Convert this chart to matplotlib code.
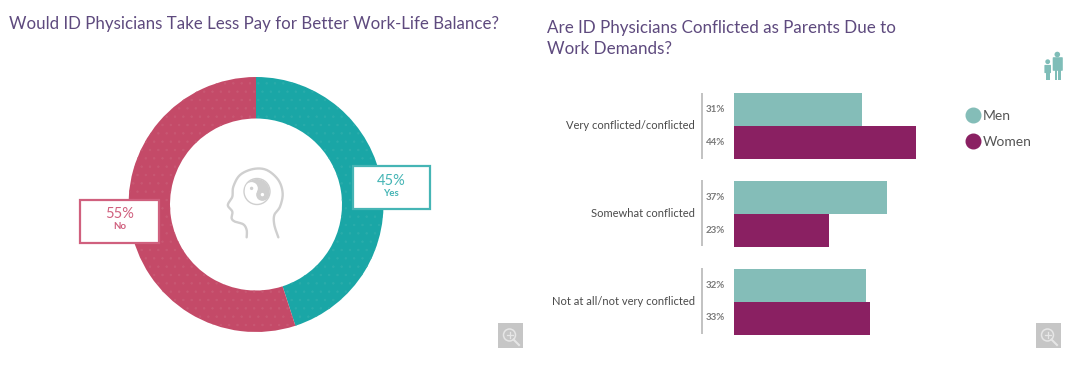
import numpy as np
import matplotlib
matplotlib.use("Agg")
import matplotlib.pyplot as plt
from matplotlib.lines import Line2D
from matplotlib.patches import Rectangle, Circle, Wedge, FancyBboxPatch

plt.rcParams['font.family'] = ['Lato', 'DejaVu Sans']
plt.rcParams['hatch.linewidth'] = 0.5

# Data
donut_labels = ['Yes', 'No']
donut_values = [45, 55]
donut_colors = ['#1AA6A6', '#C44A68']
donut_dots = ['#2AACAB', '#C85873']
categories = ['Very conflicted/conflicted', 'Somewhat conflicted', 'Not at all/not very conflicted']
men = [31, 37, 32]
women = [44, 23, 33]
title_left = 'Would ID Physicians Take Less Pay for Better Work-Life Balance?'
title_right = 'Are ID Physicians Conflicted as Parents Due to\nWork Demands?'

W, H = 1080, 366
TEAL, PURPLE = '#84BDB8', '#8A2062'
TITLE = '#5E4A7E'
fig = plt.figure(figsize=(W / 100, H / 100), dpi=100, facecolor='white')


def box(x0, y0, x1, y1):
    """Figure axes rectangle from reference pixel bounds (y measured downward)."""
    return [x0 / W, 1 - y1 / H, (x1 - x0) / W, (y1 - y0) / H]


# Donut
cx, cy, R = 256, 204.5, 127.5
ax_d = fig.add_axes(box(cx - R, cy - R, cx + R, cy + R))
wedges, _ = ax_d.pie(donut_values, colors=donut_colors, startangle=90, counterclock=False,
                     radius=1, wedgeprops=dict(width=1 - 86 / 127.5, linewidth=0))
for w, dot in zip(wedges, donut_dots):
    w.set_hatch('..')
    w.set_edgecolor(dot)
ax_d.set_xlim(-1, 1)
ax_d.set_ylim(-1, 1)
ax_d.set_aspect('equal')
ax_d.set_axis_off()

# Bars
ax_b = fig.add_axes(box(734, 80, 934, 346))
px_per_pct = 4.13
y = np.arange(len(categories))
bar_h = 33 / 88
ax_b.barh(y - bar_h / 2, men, height=bar_h, color=TEAL, label='Men')
ax_b.barh(y + bar_h / 2, women, height=bar_h, color=PURPLE, label='Women')
ax_b.set_xlim(0, 200 / px_per_pct)
ax_b.set_ylim((346 - 125.5) / 88, (80 - 125.5) / 88)
ax_b.set_axis_off()
ax_b.patch.set_alpha(0)
for i, cat in enumerate(categories):
    ax_b.annotate(cat, (0, i), xytext=(-39, 0), textcoords='offset pixels', ha='right', va='center',
                  fontsize=8.05, color='#4A4A4A', annotation_clip=False)
    ax_b.annotate(f'{men[i]}%', (0, i - bar_h / 2), xytext=(-28, 0), textcoords='offset pixels',
                  ha='left', va='center', fontsize=7, color='#7A7A7A', fontweight='bold',
                  annotation_clip=False)
    ax_b.annotate(f'{women[i]}%', (0, i + bar_h / 2), xytext=(-28, 0), textcoords='offset pixels',
                  ha='left', va='center', fontsize=7, color='#7A7A7A', fontweight='bold',
                  annotation_clip=False)

leg = fig.legend(handles=[
    Line2D([], [], marker='o', ls='', ms=10.5, color=TEAL, label='Men'),
    Line2D([], [], marker='o', ls='', ms=10.5, color=PURPLE, label='Women')],
    loc='upper left', bbox_to_anchor=(963 / W, 1 - 110 / H), frameon=False, fontsize=10,
    labelcolor='#555555', handletextpad=-0.1, labelspacing=1.0, borderpad=0, borderaxespad=0,
    handlelength=1.5)

# Overlay in reference pixels: titles, callouts, icons
ov = fig.add_axes([0, 0, 1, 1], zorder=5)
ov.set_xlim(0, W)
ov.set_ylim(H, 0)
ov.set_axis_off()
ov.patch.set_alpha(0)

ov.text(9, 24.5, title_left, fontsize=12.13, color=TITLE, va='center', ha='left')
ov.text(547, 27.5, title_right.split('\n')[0], fontsize=12.25, color=TITLE, va='center', ha='left')
ov.text(547, 48.5, title_right.split('\n')[1], fontsize=12.25, color=TITLE, va='center', ha='left')

# Category brackets
for top in (92.7, 180, 268):
    ov.plot([701.7, 701.7], [top, top + 66], color='#BDBDBD', lw=1.3, solid_capstyle='butt')

# Callouts
for (x0, y0, x1, y1), col, pct, lab in [
    ((352.5, 166, 430, 209), '#45B5B5', donut_values[0], donut_labels[0]),
    ((80, 199.5, 159, 242.5), '#D0607E', donut_values[1], donut_labels[1])]:
    ov.add_patch(Rectangle((x0, y0), x1 - x0, y1 - y0, fc='white', ec=col, lw=1.6))
    xm = (x0 + x1) / 2
    ov.text(xm, y0 + 15, f'{pct}%', color=col, fontsize=10.5, ha='center', va='center')
    ov.text(xm, y0 + 27, lab, color=col, fontsize=7, fontweight='bold', ha='center', va='center')


# Head icon
def spline(pts, n=12):
    p = np.array([pts[0]] + pts + [pts[-1]], float)
    out = []
    for i in range(1, len(p) - 2):
        for t in np.linspace(0, 1, n, endpoint=False):
            a, b, c, d = p[i - 1], p[i], p[i + 1], p[i + 2]
            out.append(0.5 * (2 * b + (c - a) * t + (2 * a - 5 * b + 4 * c - d) * t ** 2
                              + (3 * b - a - 3 * c + d) * t ** 3))
    out.append(p[-2])
    return np.array(out)


zoom_pts = [(95, 247), (95, 225), (85, 208), (60, 200), (50, 190), (52, 170), (40, 155), (40, 145),
            (52, 125), (55, 95), (75, 60), (115, 42), (155, 45), (190, 75), (203, 115), (195, 155),
            (178, 180), (178, 210), (190, 247)]
head = spline([(215 + a / 3, 155 + b / 3) for a, b in zoom_pts])
GREY = '#CFCFCF'
ov.plot(head[:, 0], head[:, 1], color=GREY, lw=1.7, solid_capstyle='round')
yx, yy, yr = 257, 191.5, 12.5
ca, sa = np.cos(np.radians(30)), np.sin(np.radians(30))
ov.add_patch(Circle((yx, yy), yr + 0.5, fc='white', ec=GREY, lw=1.0))
ov.add_patch(Wedge((yx, yy), yr, 210, 30, fc=GREY, lw=0))
ov.add_patch(Circle((yx + yr / 2 * ca, yy + yr / 2 * sa), yr / 2, fc=GREY, lw=0))
ov.add_patch(Circle((yx - yr / 2 * ca, yy - yr / 2 * sa), yr / 2, fc='white', lw=0))
ov.add_patch(Circle((yx - yr / 2 * ca, yy - yr / 2 * sa), 1.7, fc=GREY, lw=0))
ov.add_patch(Circle((yx + yr / 2 * ca, yy + yr / 2 * sa), 1.7, fc='white', lw=0))

# Zoom buttons
for bx in (498, 1036):
    ov.add_patch(Rectangle((bx, 323), 25, 25, fc='#C6C6C6', lw=0))
    ov.add_patch(Circle((bx + 11.5, 335), 6, fc='none', ec='#E6E6E6', lw=1.1))
    ov.plot([bx + 15.5, bx + 21], [339.5, 345], color='#E6E6E6', lw=1.5)
    ov.plot([bx + 8.5, bx + 14.5], [335, 335], color='#E6E6E6', lw=0.9)
    ov.plot([bx + 11.5, bx + 11.5], [332, 338], color='#E6E6E6', lw=0.9)

# Parent and child icon
ICON = '#7FBDB8'
ov.add_patch(Circle((1057.3, 54.5), 2.8, fc=ICON, lw=0))
ov.add_patch(FancyBboxPatch((1053.5, 58), 8.5, 12, boxstyle='round,pad=0.8', fc=ICON, lw=0))
ov.add_patch(Rectangle((1054.5, 70), 2.7, 10, fc=ICON, lw=0))
ov.add_patch(Rectangle((1058, 70), 2.7, 10, fc=ICON, lw=0))
ov.add_patch(Circle((1047.7, 61.7), 2.4, fc=ICON, lw=0))
ov.add_patch(FancyBboxPatch((1045, 65.5), 5.4, 7, boxstyle='round,pad=0.6', fc=ICON, lw=0))
ov.add_patch(Rectangle((1045.7, 72.5), 1.9, 7, fc=ICON, lw=0))
ov.add_patch(Rectangle((1048.2, 72.5), 1.9, 7, fc=ICON, lw=0))

fig.savefig('out.png', dpi=100, facecolor='white')
